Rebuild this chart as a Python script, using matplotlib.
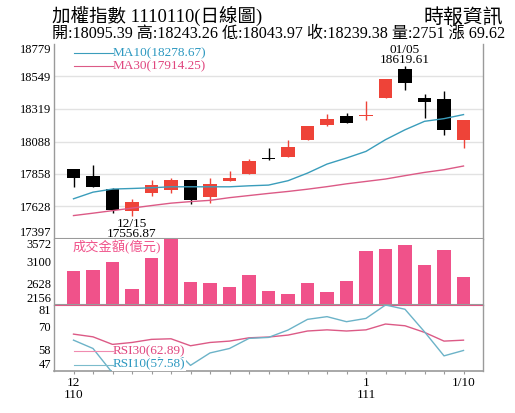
import numpy as np
import matplotlib
matplotlib.use('Agg')
import matplotlib.pyplot as plt

plt.rcParams['font.family'] = ['Liberation Serif', 'Noto Sans CJK TC']

# trading days 2021/12/10 .. 2022/01/10
dates = ['12/10', '12/13', '12/14', '12/15', '12/16', '12/17', '12/20', '12/21', '12/22', '12/23', '12/24',
         '12/27', '12/28', '12/29', '12/30', '01/03', '01/04', '01/05', '01/06', '01/07', '01/10']
opens = [17893, 17840, 17753, 17596, 17722, 17746, 17812, 17694, 17810, 17859, 17967,
         17978, 18101, 18208, 18272, 18267, 18398, 18599, 18398, 18391, 18095.39]
closes = [17829, 17769, 17601, 17660, 17779, 17815, 17670, 17788, 17831, 17947, 17964,
          18049, 18196, 18250, 18220, 18277, 18528, 18504, 18369, 18172, 18239.38]
highs = [17895, 17921, 17760, 17680, 17817, 17826, 17815, 17826, 17879, 17964, 18042,
         18101, 18198, 18286, 18291, 18373, 18530, 18619.61, 18428, 18445, 18243.26]
lows = [17769, 17765, 17584, 17556.87, 17703, 17722, 17648, 17655, 17808, 17855, 17957,
        17975, 18099, 18199, 18218, 18238, 18395, 18450, 18255, 18132, 18043.97]
ma10 = [17682, 17729, 17751, 17755, 17760, 17767, 17767, 17767, 17767, 17774, 17779,
        17810, 17864, 17928, 17971, 18018, 18101, 18171, 18231, 18250, 18278.67]
ma30 = [17563, 17580, 17598, 17616, 17634, 17651, 17662, 17671, 17690, 17705, 17720,
        17734, 17750, 17768, 17788, 17805, 17822, 17846, 17869, 17888, 17914.25]
volume = [2884, 2905, 3085, 2510, 3158, 3572, 2640, 2631, 2545, 2797, 2452,
          2402, 2631, 2430, 2674, 3316, 3359, 3445, 3013, 3337, 2751]
rsi30 = [66.0, 64.6, 60.7, 61.7, 63.3, 63.6, 60.0, 61.7, 62.4, 64.1, 64.5,
         65.5, 67.6, 68.2, 67.6, 68.2, 71.2, 70.3, 66.9, 62.4, 62.89]
rsi10 = [62.9, 58.6, 46.0, 44.0, 50.0, 60.0, 49.9, 56.3, 58.6, 63.8, 64.3,
         68.1, 73.6, 75.0, 72.4, 74.1, 81.0, 78.8, 67.2, 54.8, 57.58]

price_ticks = [17397, 17628, 17858, 18088, 18319, 18549, 18779]
vol_ticks = [2156, 2628, 3100, 3572]
rsi_ticks = [47, 58, 70, 81]
x_labels = {0: '12\n110', 15: '1\n111', 20: '1/10'}

RED = '#ee4338'
BLACK = '#000000'
PINK = '#f0528a'
TEAL = '#3a9dbb'
MA30_C = '#dc5a86'
SPINE = '#9a9a9a'
GRID = '#e2e2e2'

W, H = 515, 413
fig = plt.figure(figsize=(W / 100, H / 100), dpi=100)


def px_axes(left, top, right, bottom):
    return fig.add_axes([left / W, (H - bottom) / H, (right - left) / W, (bottom - top) / H])


ax = px_axes(54, 44, 483, 239)
axv = px_axes(54, 239, 483, 305)
axr = px_axes(54, 305, 483, 371)

x = np.arange(len(dates))
opens_a = np.array(opens)
closes_a = np.array(closes)
up = closes_a >= opens_a
colors = [RED if u else BLACK for u in up]

for a in (ax, axv, axr):
    a.set_xlim(-1, len(dates))
    for s in ('top', 'bottom'):
        a.spines[s].set_visible(False)
    for s in ('left', 'right'):
        a.spines[s].set_color(SPINE)
        a.spines[s].set_linewidth(1.0)
    a.tick_params(axis='y', length=0, labelsize=9, pad=2)
    a.tick_params(axis='x', length=0, labelbottom=False)

# price panel
ax.set_ylim(price_ticks[0], price_ticks[-1])
ax.set_yticks(price_ticks)
ax.set_yticklabels([str(t) for t in price_ticks])
for t in price_ticks[1:-1]:
    ax.axhline(t, color=GRID, lw=1.0, zorder=0)
ax.axhline(price_ticks[0], color=SPINE, lw=1.5, zorder=5)

body_bottom = np.minimum(opens_a, closes_a)
body_h = np.maximum(np.abs(closes_a - opens_a), 8)
ax.vlines(x, lows, highs, colors=colors, lw=1.0, zorder=2)
ax.bar(x, body_h, bottom=body_bottom, width=0.68, color=colors, zorder=3)
ax.plot(x, ma10, color=TEAL, lw=1.0, zorder=4)
ax.plot(x, ma30, color=MA30_C, lw=1.0, zorder=4)

tx = ax.get_xaxis_transform()
ax.plot([0.0, 2.0], [0.954, 0.954], transform=tx, color=TEAL, lw=0.8)
ax.plot([0.0, 2.0], [0.887, 0.887], transform=tx, color=MA30_C, lw=0.8)
ax.text(2.02, 0.954, f'MA10({ma10[-1]:.2f})', transform=tx,
        color='#2c98c0', fontsize=9.5, va='center')
ax.text(2.02, 0.887, f'MA30({ma30[-1]:.2f})', transform=tx,
        color='#e0457e', fontsize=9.5, va='center')

i_low = int(np.argmin(lows))
i_high = int(np.argmax(highs))
ax.annotate(f'{dates[i_low]}\n{lows[i_low]:.2f}', (x[i_low], lows[i_low]),
            xytext=(0, -1), textcoords='offset points', ha='center', va='top',
            fontsize=9.5, linespacing=0.85, annotation_clip=False, zorder=10)
ax.annotate(f'{dates[i_high]}\n{highs[i_high]:.2f}', (x[i_high], highs[i_high]),
            xytext=(0, 0), textcoords='offset points', ha='center', va='bottom',
            fontsize=9.5, linespacing=0.85, annotation_clip=False, zorder=10)

# volume panel
axv.set_ylim(vol_ticks[0], vol_ticks[-1])
axv.set_yticks(vol_ticks)
axv.set_yticklabels([str(t) for t in vol_ticks])
axv.bar(x, np.array(volume) - vol_ticks[0], bottom=vol_ticks[0], width=0.68, color=PINK, zorder=3)
axv.axhline(vol_ticks[0], color=SPINE, lw=1.5, zorder=5)
axv.text(0.044, 0.88, '成交金額(億元)', transform=axv.transAxes, color=PINK,
         fontsize=9.5, va='center', ha='left', zorder=6)

# rsi panel
axr.set_ylim(rsi_ticks[0], rsi_ticks[-1])
axr.set_yticks(rsi_ticks)
axr.set_yticklabels([str(t) for t in rsi_ticks])
axr.axhline(rsi_ticks[-1], color=MA30_C, lw=0.8, zorder=1)
axr.plot(x, rsi30, color=MA30_C, lw=1.0, zorder=3)
axr.plot(x, rsi10, color='#6cb3c8', lw=1.0, zorder=3)
axr.spines['bottom'].set_visible(True)
axr.spines['bottom'].set_color(SPINE)
axr.spines['bottom'].set_linewidth(1.2)
txr = axr.get_xaxis_transform()
axr.plot([0.0, 2.0], [0.304, 0.304], transform=txr, color='#f08cb0', lw=0.8, zorder=7)
axr.plot([0.0, 2.0], [0.097, 0.097], transform=txr, color='#7cbccc', lw=0.8, zorder=7)
axr.text(2.02, 0.304, f'RSI30({rsi30[-1]:.2f})', transform=txr,
         color='#e0457e', fontsize=9.5, va='center', zorder=6,
         bbox=dict(facecolor='white', edgecolor='none', pad=0.3))
axr.text(2.02, 0.097, f'RSI10({rsi10[-1]:.2f})', transform=txr,
         color='#2c98c0', fontsize=9.5, va='center', zorder=6,
         bbox=dict(facecolor='white', edgecolor='none', pad=0.3))
axr.set_xticks(x)
axr.set_xticklabels([x_labels.get(i, '') for i in x])
axr.tick_params(axis='x', length=2.5, color=SPINE, labelbottom=True, labelsize=9.5, pad=2)
for lbl in axr.get_xticklabels():
    lbl.set_linespacing(0.95)

# keep top/bottom tick labels inside the panels
for a in (ax, axv, axr):
    labels = a.get_yticklabels()
    labels[0].set_va('bottom')
    labels[-1].set_va('top')

fig.text(52 / W, 1 - 16 / H, '加權指數 1110110(日線圖)', fontsize=13.3, va='center', ha='left')
fig.text(503 / W, 1 - 18 / H, '時報資訊', fontsize=14.3, va='center', ha='right')
fig.text(52 / W, 1 - 34 / H,
         f'開:{opens[-1]:.2f} 高:{highs[-1]:.2f} 低:{lows[-1]:.2f} 收:{closes[-1]:.2f} 量:{volume[-1]} 漲 69.62',
         fontsize=11.6, va='center', ha='left')

fig.savefig('out.png', dpi=100)
